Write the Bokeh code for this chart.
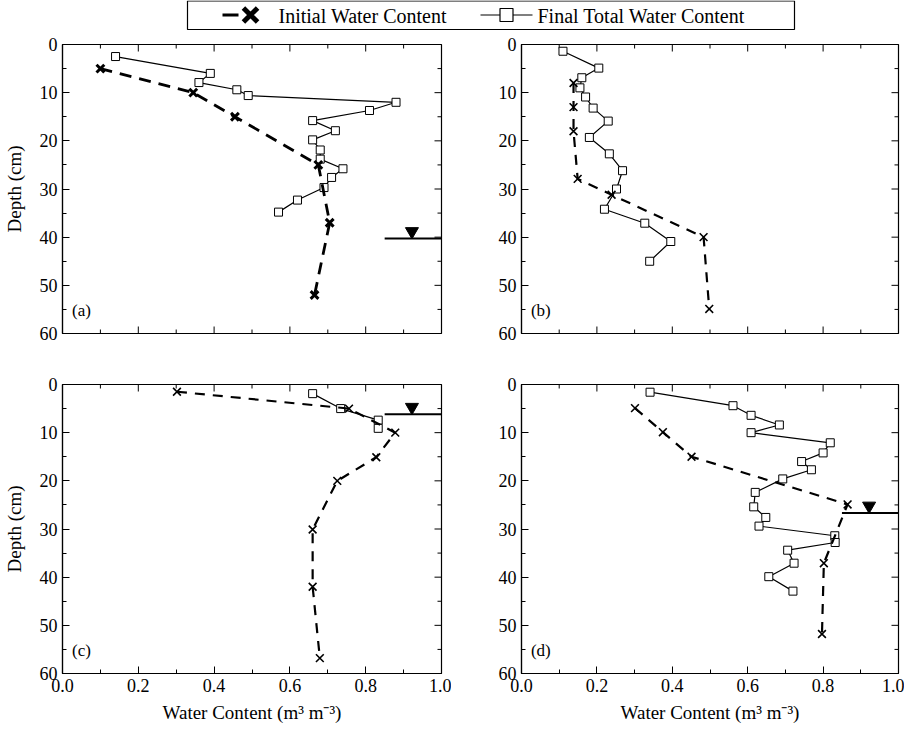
from bokeh.plotting import figure
from bokeh.models import Range1d, FixedTicker, PrintfTickFormatter, Label
from bokeh.layouts import column, row
from bokeh.embed import file_html
from bokeh.resources import INLINE
from bokeh.core.properties import value

# ---------------- data ----------------
x_ticks = [0.0, 0.2, 0.4, 0.6, 0.8, 1.0]
x_minor = [0.1, 0.3, 0.5, 0.7, 0.9]
y_ticks = [0, 10, 20, 30, 40, 50, 60]
y_minor = [5, 15, 25, 35, 45, 55]

a_final_wc = [0.14, 0.39, 0.36, 0.46, 0.49, 0.88, 0.81, 0.66, 0.72, 0.66, 0.68, 0.68, 0.74, 0.71, 0.69, 0.62, 0.57]
a_final_depth = [2.5, 6.0, 7.9, 9.4, 10.6, 12.0, 13.7, 15.8, 17.9, 19.8, 21.9, 23.8, 25.8, 27.6, 29.7, 32.3, 34.8]
a_init_wc = [0.10, 0.345, 0.455, 0.675, 0.705, 0.665]
a_init_depth = [5.0, 10.0, 15.0, 25.0, 37.0, 52.0]
a_table = 40.3

b_final_wc = [0.11, 0.205, 0.16, 0.155, 0.17, 0.19, 0.23, 0.18, 0.233, 0.268, 0.252, 0.22, 0.327, 0.396, 0.34]
b_final_depth = [1.4, 4.9, 6.9, 9.0, 10.9, 13.2, 15.9, 19.3, 22.7, 26.2, 30.0, 34.2, 37.1, 40.9, 45.0]
b_init_wc = [0.138, 0.138, 0.138, 0.149, 0.239, 0.483, 0.498]
b_init_depth = [8.0, 13.0, 18.0, 27.9, 31.2, 40.0, 54.9]
b_table = None

c_final_wc = [0.66, 0.734, 0.833, 0.833]
c_final_depth = [1.9, 5.0, 7.4, 9.1]
c_init_wc = [0.302, 0.756, 0.878, 0.828, 0.725, 0.66, 0.66, 0.679]
c_init_depth = [1.5, 5.0, 10.0, 15.1, 20.0, 30.1, 42.0, 56.8]
c_table = 6.2

d_final_wc = [0.341, 0.561, 0.609, 0.684, 0.609, 0.819, 0.80, 0.743, 0.769, 0.693, 0.62, 0.616, 0.648, 0.63, 0.831, 0.832, 0.706, 0.723, 0.656, 0.72]
d_final_depth = [1.6, 4.4, 6.4, 8.4, 10.0, 12.1, 14.2, 16.0, 17.7, 19.6, 22.4, 25.4, 27.6, 29.4, 31.4, 32.8, 34.4, 37.1, 39.9, 42.9]
d_init_wc = [0.301, 0.375, 0.451, 0.865, 0.802, 0.797]
d_init_depth = [4.9, 9.9, 15.0, 24.9, 37.1, 51.8]
d_table = 26.7

FONT = "Liberation Serif"
FRAME_H = 289
MAJ = 7
MIN = 4
X0, X1 = 0.0, 1.0
Y0, Y1 = 0.0, 60.0


def style_axis(ax, ticks, minor, fmt):
    ax.ticker = FixedTicker(ticks=ticks, minor_ticks=minor)
    ax.formatter = PrintfTickFormatter(format=fmt)
    ax.major_tick_in = MAJ
    ax.major_tick_out = 0
    ax.minor_tick_in = MIN
    ax.minor_tick_out = 0
    ax.axis_line_color = "black"
    ax.axis_line_width = 1.2
    ax.major_tick_line_color = "black"
    ax.minor_tick_line_color = "black"
    ax.major_label_text_font = FONT
    ax.major_label_text_font_size = "18px"
    ax.major_label_text_color = "black"
    ax.major_label_standoff = 5
    ax.axis_label_text_font = FONT
    ax.axis_label_text_font_style = "normal"
    ax.axis_label_text_font_size = "19px"
    ax.axis_label_text_color = "black"


def edge_ticks(p, fw, bottom_too):
    """inward tick marks on the unlabeled sides (top, right, and bottom of upper panels)"""
    ly_maj = MAJ * (Y1 - Y0) / FRAME_H
    ly_min = MIN * (Y1 - Y0) / FRAME_H
    lx_maj = MAJ * (X1 - X0) / fw
    lx_min = MIN * (X1 - X0) / fw
    # top edge
    p.segment(x0=x_ticks, y0=[Y0] * len(x_ticks), x1=x_ticks, y1=[Y0 + ly_maj] * len(x_ticks),
              line_color="black", line_width=1)
    p.segment(x0=x_minor, y0=[Y0] * len(x_minor), x1=x_minor, y1=[Y0 + ly_min] * len(x_minor),
              line_color="black", line_width=1)
    if bottom_too:
        p.segment(x0=x_ticks, y0=[Y1] * len(x_ticks), x1=x_ticks, y1=[Y1 - ly_maj] * len(x_ticks),
                  line_color="black", line_width=1)
        p.segment(x0=x_minor, y0=[Y1] * len(x_minor), x1=x_minor, y1=[Y1 - ly_min] * len(x_minor),
                  line_color="black", line_width=1)
    # right edge
    p.segment(x0=[X1] * len(y_ticks), y0=y_ticks, x1=[X1 - lx_maj] * len(y_ticks), y1=y_ticks,
              line_color="black", line_width=1)
    p.segment(x0=[X1] * len(y_minor), y0=y_minor, x1=[X1 - lx_min] * len(y_minor), y1=y_minor,
              line_color="black", line_width=1)


def panel(final_wc, final_depth, init_wc, init_depth, table, tag, bold,
          show_x, show_ytitle, mbl, mbr, mbt, mbb, fw):
    p = figure(frame_width=fw, frame_height=FRAME_H,
               x_range=Range1d(X0, X1), y_range=Range1d(Y1, Y0),
               output_backend="svg", toolbar_location=None,
               min_border_left=mbl, min_border_right=mbr,
               min_border_top=mbt, min_border_bottom=mbb,
               background_fill_color="white", border_fill_color="white")
    p.outline_line_color = "black"
    p.outline_line_width = 1.2
    p.xgrid.visible = False
    p.ygrid.visible = False

    style_axis(p.yaxis[0], y_ticks, y_minor, "%d")
    if show_ytitle:
        p.yaxis[0].axis_label = "Depth (cm)"
        p.yaxis[0].axis_label_standoff = 12
    if show_x:
        style_axis(p.xaxis[0], x_ticks, x_minor, "%.1f")
        p.xaxis[0].axis_label = "Water Content (m\u00b3 m\u207b\u00b3)"
        p.xaxis[0].axis_label_standoff = 7
    else:
        p.xaxis.visible = False

    edge_ticks(p, fw, not show_x)

    # final total water content (solid line + open squares)
    p.line(final_wc, final_depth, line_color="black", line_width=1.2)
    p.scatter(final_wc, final_depth, marker="square", size=8,
              fill_color="white", line_color="black", line_width=1)

    # initial water content (dashed line + x)
    if bold:
        p.line(init_wc, init_depth, line_color="black", line_width=2.8, line_dash="12 8")
        p.scatter(init_wc, init_depth, marker="x", size=11, line_color="black", line_width=3)
    else:
        p.line(init_wc, init_depth, line_color="black", line_width=2.2, line_dash="10 8")
        p.scatter(init_wc, init_depth, marker="x", size=11, line_color="black", line_width=1.6)

    # water table symbol
    if table is not None:
        p.segment(x0=[0.85], y0=[table], x1=[1.0], y1=[table], line_color="black", line_width=2)
        p.scatter([0.922], [table - 1.5], marker="inverted_triangle", size=13,
                  fill_color="black", line_color="black")

    p.add_layout(Label(x=0.025, y=55.3, text=tag, text_font=FONT, text_font_size="17px",
                       text_baseline="middle", text_color="black"))
    return p


# ---------------- legend strip ----------------
lg = figure(width=901, height=36, x_range=Range1d(0, 901), y_range=Range1d(36, 0),
            min_border=0, toolbar_location=None, output_backend="svg",
            x_axis_location=None, y_axis_location=None)
lg.outline_line_color = None
lg.xgrid.visible = False
lg.ygrid.visible = False
lg.quad(left=[187], right=[794], top=[0.5], bottom=[29], fill_color=None,
        line_color="black", line_width=1.2)
lg.segment(x0=[222], y0=[14.5], x1=[238], y1=[14.5], line_color="black", line_width=3)
lg.scatter([250], [14.5], marker="x", size=20, line_color="black", line_width=5)
lg.text([278], [15.5], text=["Initial Water Content"], text_font=value(FONT),
        text_font_size="20px", text_baseline="middle", text_color="black")
lg.segment(x0=[480], y0=[14.5], x1=[532], y1=[14.5], line_color="black", line_width=1.2)
lg.scatter([506], [14.5], marker="square", size=13, fill_color="white",
           line_color="black", line_width=1.2)
lg.text([537], [15.5], text=["Final Total Water Content"], text_font=value(FONT),
        text_font_size="20px", text_baseline="middle", text_color="black")

pa = panel(a_final_wc, a_final_depth, a_init_wc, a_init_depth, a_table, "(a)", True,
           False, True, 59, 10, 8, 21, 379)
pb = panel(b_final_wc, b_final_depth, b_init_wc, b_init_depth, b_table, "(b)", False,
           False, False, 70, 6, 8, 21, 377)
pc = panel(c_final_wc, c_final_depth, c_init_wc, c_init_depth, c_table, "(c)", False,
           True, True, 59, 10, 30, 48, 379)
pd = panel(d_final_wc, d_final_depth, d_init_wc, d_init_depth, d_table, "(d)", False,
           True, False, 70, 6, 30, 48, 377)

layout = column(lg, row(pa, pb), row(pc, pd))
open("out.html", "w").write(file_html(layout, INLINE))
